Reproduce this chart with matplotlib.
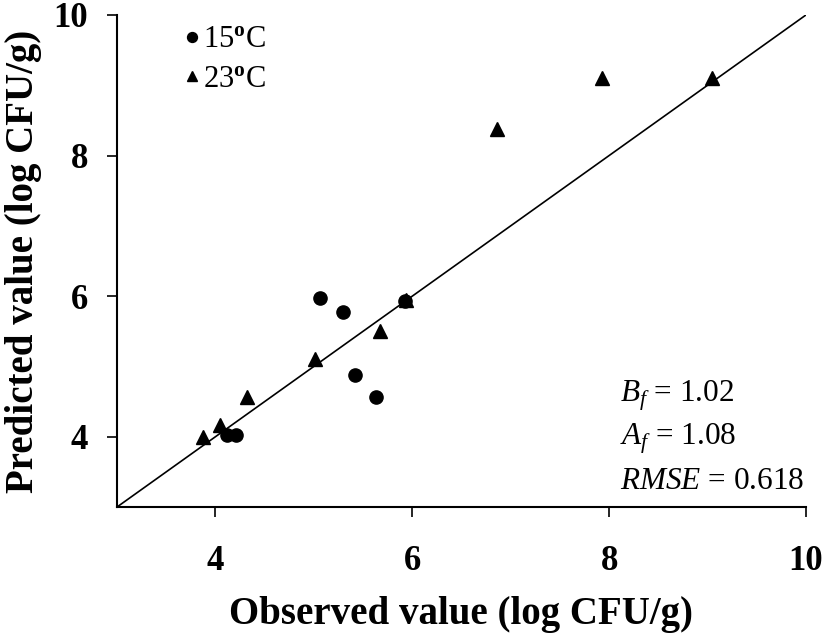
import matplotlib
matplotlib.use("Agg")
import matplotlib.pyplot as plt

plt.rcParams['font.family'] = ['Liberation Serif', 'DejaVu Serif']
plt.rcParams['mathtext.fontset'] = 'custom'
plt.rcParams['mathtext.rm'] = 'Liberation Serif'
plt.rcParams['mathtext.it'] = 'Liberation Serif:italic'
plt.rcParams['mathtext.bf'] = 'Liberation Serif:bold'

# 15 °C
obs_15 = [4.12, 4.21, 5.06, 5.30, 5.42, 5.63, 5.93]
pred_15 = [4.02, 4.03, 5.97, 5.77, 4.88, 4.56, 5.93]
# 23 °C
obs_23 = [3.87, 4.05, 4.32, 5.01, 5.67, 5.94, 6.86, 7.93, 9.05]
pred_23 = [4.00, 4.17, 4.57, 5.11, 5.51, 5.95, 8.38, 9.10, 9.10]

ticks = [4, 6, 8, 10]
line_ref = [3, 10]
stats_labels = [r'$B_f$ = 1.02', r'$A_f$ = 1.08', r'$RMSE$ = 0.618']
legend_labels = [r'15$^{\mathbf{o}}$C', r'23$^{\mathbf{o}}$C']

fig = plt.figure(figsize=(8.27, 6.38), dpi=100)
ax = fig.add_axes([0.1415, 0.2053, 0.833, 0.7712])

ax.plot(line_ref, line_ref, color='black', lw=1.2, zorder=1)
h1, = ax.plot(obs_15, pred_15, 'o', color='black', ms=9.5, ls='none', zorder=3)
h2, = ax.plot(obs_23, pred_23, '^', color='black', ms=9.5, ls='none', zorder=2)

ax.set_xlim(3, 10)
ax.set_ylim(3, 10)
ax.set_xticks(ticks)
ax.set_yticks(ticks)
for lab in ax.get_xticklabels() + ax.get_yticklabels():
    lab.set_fontweight('bold')
ax.tick_params(axis='both', labelsize=25, length=7, width=1.2, direction='out', color='black')
ax.tick_params(axis='x', pad=20)
ax.tick_params(axis='y', pad=14)
for s in ['top', 'right']:
    ax.spines[s].set_visible(False)
for s in ['left', 'bottom']:
    ax.spines[s].set_linewidth(1.5)

ax.set_xlabel('Observed value (log CFU/g)', fontsize=28, fontweight='bold', labelpad=13)
ax.set_ylabel('Predicted value (log CFU/g)', fontsize=28, fontweight='bold', labelpad=8)

leg = ax.legend([h1, h2], legend_labels, loc='upper left', bbox_to_anchor=(0.06, 1.035),
                frameon=False, fontsize=22, handlelength=0.4, handletextpad=0.15,
                markerscale=0.75, labelspacing=0.35)

for i, t in enumerate(stats_labels):
    ax.text(0.73, 0.227 - i * 0.088, t, transform=ax.transAxes, fontsize=22.5,
            ha='left', va='center')

fig.savefig('out.png', dpi=100)
